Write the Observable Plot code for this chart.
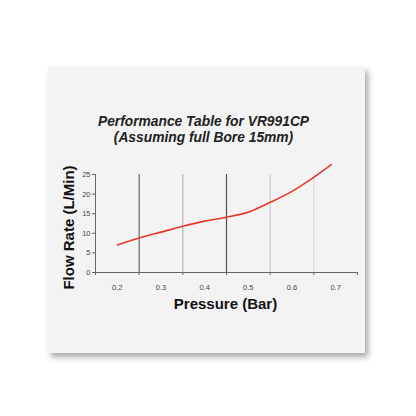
<!DOCTYPE html>
<html>
<head>
<meta charset="utf-8">
<script src="https://cdn.jsdelivr.net/npm/d3@7"></script>
<script src="https://cdn.jsdelivr.net/npm/@observablehq/plot@0.6"></script>
<style>
  html, body { margin: 0; padding: 0; background: #ffffff; }
  #wrap { position: relative; width: 416px; height: 416px; overflow: hidden; background: #fff; }
  #card { position: absolute; left: 48px; top: 67px; width: 317px; height: 286px;
          background: #f3f3f3; box-shadow: 3px 4px 6px rgba(0,0,0,0.35); }
  #chart { position: absolute; left: 0; top: 0; }
  #chart svg { background: transparent; }
</style>
</head>
<body>
<div id="wrap">
  <div id="card"></div>
  <div id="chart"></div>
</div>
<script>
const titleLines = ["Performance Table for VR991CP", "(Assuming full Bore 15mm)"];
const xLabel = "Pressure (Bar)";
const yLabel = "Flow Rate (L/Min)";
const pressure = [0.2, 0.25, 0.3, 0.35, 0.4, 0.45, 0.5, 0.55, 0.6, 0.65, 0.69];
const flow =     [7.0, 8.8, 10.3, 11.8, 13.1, 14.1, 15.4, 17.9, 20.7, 24.3, 27.5];
const xTickLabels = [0.2, 0.3, 0.4, 0.5, 0.6, 0.7];
const xTickMarks = [0.15, 0.25, 0.35, 0.45, 0.55, 0.65, 0.75];
const yTicks = [0, 5, 10, 15, 20, 25];
const gridX = [0.25, 0.35, 0.45, 0.55, 0.65];

const gridColor = new Map([[0.25, "#666666"], [0.35, "#b4b4b4"], [0.45, "#555555"], [0.55, "#cfcfcf"], [0.65, "#dadada"]]);
const data = pressure.map((p, i) => ({p, f: flow[i]}));

const chart = Plot.plot({
  width: 416,
  height: 416,
  marginLeft: 95,
  marginRight: 59,
  marginTop: 174,
  marginBottom: 144,
  style: {background: "transparent", fontFamily: "'Liberation Sans', Arial, sans-serif"},
  x: {domain: [0.15, 0.75]},
  y: {domain: [0, 25]},
  marks: [
    Plot.ruleX(gridX, {x: d => d, y1: 0, y2: 25, stroke: d => gridColor.get(d), strokeWidth: 1.2}),
    Plot.axisX(xTickMarks, {tickSize: 3, tickFormat: () => "", stroke: "#666", label: null}),
    Plot.axisX(xTickLabels, {tickSize: 0, tickPadding: 12, fontSize: 7.5, fill: "#444", tickFormat: d3.format(".1f"), label: null}),
    Plot.axisY(yTicks, {tickSize: 3, tickPadding: 2, fontSize: 7.5, fill: "#444", stroke: "#666", label: null}),
    Plot.ruleY([0], {x1: 0.15, x2: 0.75, stroke: "#666"}),
    Plot.ruleX([0.15], {y1: 0, y2: 25, stroke: "#666"}),
    Plot.line(data, {x: "p", y: "f", stroke: "#e33a2c", strokeWidth: 1.6, curve: "catmull-rom"}),
    Plot.text([xLabel], {frameAnchor: "bottom", textAnchor: "middle", dy: 36, dx: -1, fontSize: 15, fontWeight: "bold", fill: "#111"}),
    Plot.text([yLabel], {frameAnchor: "left", textAnchor: "middle", rotate: -90, dx: -26, dy: 4, fontSize: 15, fontWeight: "bold", fill: "#111"}),
    Plot.text([titleLines[0]], {frameAnchor: "top", textAnchor: "middle", dx: -23, dy: -58, fontSize: 13.8, fontWeight: "bold", fontStyle: "italic", fill: "#222"}),
    Plot.text([titleLines[1]], {frameAnchor: "top", textAnchor: "middle", dx: -23, dy: -42, fontSize: 13.8, fontWeight: "bold", fontStyle: "italic", fill: "#222"})
  ]
});
document.getElementById("chart").appendChild(chart);
</script>
</body>
</html>
